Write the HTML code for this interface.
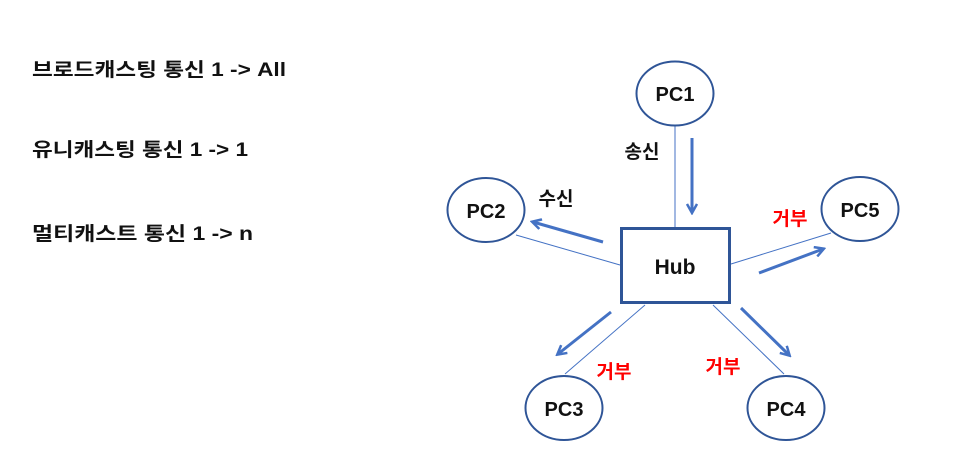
<!DOCTYPE html>
<html><head><meta charset="utf-8"><style>
html,body{margin:0;padding:0;background:#fff;}
svg{display:block}
text{font-family:"Liberation Sans","Noto Sans CJK KR","NanumGothic",sans-serif;font-weight:bold;}
</style></head><body>
<svg width="954" height="472" viewBox="0 0 954 472" xmlns="http://www.w3.org/2000/svg">
<defs>
<marker id="ah" markerWidth="12" markerHeight="12" refX="9" refY="6" orient="auto" markerUnits="userSpaceOnUse">
<path d="M1,1 L10,6 L1,11" fill="none" stroke="#4472c4" stroke-width="2.5"/>
</marker>
</defs>
<text x="32" y="76" font-size="19" fill="#111" textLength="254" lengthAdjust="spacingAndGlyphs">브로드캐스팅 통신  1 -&gt; All</text>
<text x="32" y="156" font-size="19" fill="#111" textLength="216" lengthAdjust="spacingAndGlyphs">유니캐스팅 통신  1 -&gt; 1</text>
<text x="32" y="240" font-size="19" fill="#111" textLength="221" lengthAdjust="spacingAndGlyphs">멀티캐스트 통신  1 -&gt; n</text>

<g stroke="#4472c4" stroke-width="1" fill="none">
<line x1="675" y1="126" x2="675" y2="227"/>
<line x1="516" y1="235" x2="620" y2="265"/>
<line x1="731" y1="264" x2="831" y2="233"/>
<line x1="645" y1="305" x2="565" y2="374"/>
<line x1="713" y1="305" x2="784" y2="374"/>
</g>
<g stroke="#4472c4" stroke-width="3" fill="none" marker-end="url(#ah)">
<line x1="692" y1="138" x2="692" y2="212"/>
<line x1="603" y1="242" x2="533" y2="222"/>
<line x1="759" y1="273" x2="823" y2="249"/>
<line x1="611" y1="312" x2="558" y2="354"/>
<line x1="741" y1="308" x2="789" y2="355"/>
</g>
<rect x="621.5" y="228.5" width="108" height="74" fill="#fff" stroke="#2f5597" stroke-width="3"/>
<text x="675" y="274" font-size="21" text-anchor="middle" fill="#111">Hub</text>

<g fill="#fff" stroke="#2f5597" stroke-width="2">
<ellipse cx="675" cy="93.5" rx="38.5" ry="32"/>
<ellipse cx="486" cy="210" rx="38.5" ry="32"/>
<ellipse cx="860" cy="209" rx="38.5" ry="32"/>
<ellipse cx="564" cy="408" rx="38.5" ry="32"/>
<ellipse cx="786" cy="408" rx="38.5" ry="32"/>
</g>
<g font-size="20" text-anchor="middle" fill="#111">
<text x="675" y="101">PC1</text>
<text x="486" y="218">PC2</text>
<text x="860" y="217">PC5</text>
<text x="564" y="416">PC3</text>
<text x="786" y="416">PC4</text>
</g>
<text x="642" y="158" font-size="19" text-anchor="middle" fill="#111">송신</text>
<text x="556" y="205" font-size="19" text-anchor="middle" fill="#111">수신</text>
<g font-size="19" text-anchor="middle" fill="#ff0000">
<text x="790" y="225">거부</text>
<text x="614" y="378">거부</text>
<text x="723" y="373">거부</text>
</g>
</svg>
</body></html>
